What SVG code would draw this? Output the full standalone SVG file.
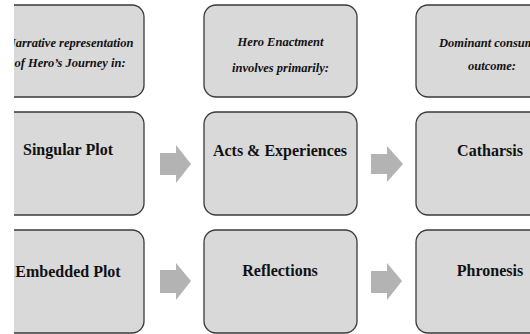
<svg xmlns="http://www.w3.org/2000/svg" width="530" height="334" viewBox="0 0 530 334">
<defs>
<style>
.box{fill:#d9d9d9;stroke:#3a3a3a;stroke-width:1.3}
.hd{font-family:"Liberation Serif","Times New Roman",serif;font-style:italic;font-weight:bold;font-size:12.5px;fill:#111;text-anchor:middle}
.lb{font-family:"Liberation Serif","Times New Roman",serif;font-weight:bold;font-size:16px;fill:#111;text-anchor:middle}
.arr{fill:#b3b3b3}
</style>
<clipPath id="leftclip"><rect x="14" y="0" width="200" height="334"/></clipPath>
</defs>
<rect width="530" height="334" fill="#fff"/>
<g clip-path="url(#leftclip)">
<g id="n-header-narrative">
<rect class="box" x="-9" y="5" width="153" height="92" rx="12"/>
<text class="hd" x="70" y="47">Narrative representation</text>
<text class="hd" x="70" y="67">of Hero’s Journey in:</text>
</g>
<g id="n-singular">
<rect class="box" x="-9" y="112" width="153" height="103" rx="12"/>
<text class="lb" x="68" y="155">Singular Plot</text>
</g>
<g id="n-embedded">
<rect class="box" x="-9" y="230" width="153" height="103" rx="12"/>
<text class="lb" x="68" y="277">Embedded Plot</text>
</g>
</g>
<g id="n-header-enactment">
<rect class="box" x="204" y="5" width="153" height="92" rx="12"/>
<text class="hd" x="280.5" y="46">Hero Enactment</text>
<text class="hd" x="280.5" y="72">involves primarily:</text>
</g>
<g id="n-acts">
<rect class="box" x="204" y="112" width="153" height="103" rx="12"/>
<text class="lb" x="280" y="156">Acts &amp; Experiences</text>
</g>
<g id="n-reflections">
<rect class="box" x="204" y="230" width="153" height="103" rx="12"/>
<text class="lb" x="280" y="276">Reflections</text>
</g>
<g id="n-header-outcome">
<rect class="box" x="416" y="5" width="153" height="92" rx="12"/>
<text class="hd" x="492" y="47">Dominant consumer</text>
<text class="hd" x="492" y="70">outcome:</text>
</g>
<g id="n-catharsis">
<rect class="box" x="416" y="112" width="153" height="103" rx="12"/>
<text class="lb" x="490" y="156">Catharsis</text>
</g>
<g id="n-phronesis">
<rect class="box" x="416" y="230" width="153" height="103" rx="12"/>
<text class="lb" x="490" y="276">Phronesis</text>
</g>
<g id="connectors">
<polygon class="arr" points="160,153 176,153 176,145 191,164 176,183 176,175 160,175"/>
<polygon class="arr" points="371,154 387,154 387,146 403,164 387,182 387,174 371,174"/>
<polygon class="arr" points="160,270 176,270 176,263 191,281 176,300 176,293 160,293"/>
<polygon class="arr" points="371,271 387,271 387,263 402,281 387,300 387,293 371,293"/>
</g>
</svg>
